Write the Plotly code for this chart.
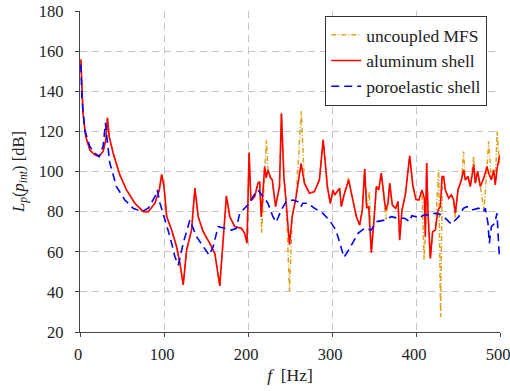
import plotly.graph_objects as go

# ---- data ----
alu_f = [1, 2, 3.6, 6.8, 11.6, 17.5, 22.7, 27.5, 30.7, 32.7, 34.7, 39.4, 47.4, 55.4, 65.3, 75.3, 81.3, 89.2, 94.4, 97.2,
         100, 103.2, 109.1, 115, 119, 122.9, 126.9, 132.8, 136.8, 140.7, 146.6, 154.5, 160.5, 166.4, 170.4, 174.3, 178.3,
         184.2, 192.1, 196, 198.8, 201.3,
         203.5, 207.9, 211.9, 213.8, 215.8, 219.8, 221.7, 223.7, 226.9, 228.9, 232.8, 235.6, 237.5, 239.8, 242.7, 245.5,
         249.4, 252.6, 257.3, 263.2, 267.2, 273.1, 279, 285, 289.5, 294.5, 298,
         301.2, 303.2, 306.3, 309.1, 311.1, 314.3, 319.8, 322.5, 325, 329, 332.9, 336.1, 338.9, 341.3, 343.7, 346.8, 350,
         352.8, 355.6, 358.7, 361.9, 363.9, 366.7, 368.7, 371.8, 375.8, 378.6, 380.6, 383.3, 387.3, 392.5, 396.4,
         400, 403.5, 407.1, 409.9, 411.1, 412.7, 414.3, 417.1, 419.8, 423, 426.2, 429, 431, 432.9, 434.9, 438.9, 442.1,
         444.8, 446.8, 450, 454, 456.7, 458.7, 461.9, 464.7, 468.7, 470.6, 473.4, 476.6, 480.6, 484.5, 486.5, 489.7,
         492.5, 494.4, 496.4, 499.2, 500]
alu_db = [155.8, 144.2, 129.2, 117.5, 110.8, 108.3, 107.5, 110, 115.8, 126.7, 117.5, 109.2, 98.3, 90.8, 84.2, 80, 80, 84.2, 90.8, 98.5,
          92.5, 77.5, 70.8, 62.5, 54.2, 43.5, 60.8, 70.8, 91.7, 77.5, 70, 64.2, 59.2, 43, 67.5, 87.8, 77.5,
          72.5, 71.7, 69.2, 64.2, 109.5,
          85.5, 87.5, 94.2, 95, 77.5, 102.5, 96.7, 100.8, 96.7, 95.8, 82.5, 89.2, 92.5, 129, 97.5, 84.2,
          63.5, 77.5, 87.5, 104, 94.2, 89.2, 90, 95.8, 115.8, 92.5, 84,
          90.8, 88.3, 90, 91.7, 82.5, 88.3, 95.8, 90, 85, 77.5, 73.3, 80.8, 101.2, 81.7, 82.5, 59.5, 75.8,
          92.5, 90.8, 99.2, 87.5, 80.8, 84.2, 94.2, 83.3, 81.7, 85, 65.8, 80.8, 88.3, 107.8, 92.5,
          86, 85.8, 90.8, 86.7, 67.5, 104.2, 79.2, 56.7, 70, 70.8, 80.8, 82.5, 97.5, 97.5, 90.8, 86.7, 88.3,
          85.8, 79.2, 90.8, 95.8, 100.8, 95.8, 97.5, 92.5, 103.3, 94.2, 100, 92.5, 96.7, 102.5, 99.2, 95.8,
          100.8, 93.3, 100.8, 107.5, 108]

mfs_f = [1, 2, 3.6, 6.8, 11.6, 17.5, 22.7, 27.5, 30.7, 32.7, 34.7, 39.4, 47.4, 55.4, 65.3, 75.3, 81.3, 89.2, 94.4, 97.2,
         100, 103.2, 109.1, 115, 119, 122.9, 126.9, 132.8, 136.8, 140.7, 146.6, 154.5, 160.5, 166.4, 170.4, 174.3, 178.3,
         184.2, 192.1, 196, 198.8, 201.3,
         203.5, 207.9, 211.9, 213.8, 216.3, 219.8, 221.9, 223.7, 226.9, 228.9, 232.8, 235.6, 237.5, 239.8, 242.7, 245.5,
         249.4, 252.6, 257.3, 263.4, 267.2, 273.1, 279, 285, 289.5, 294.5, 298,
         301.2, 303.2, 306.3, 309.1, 311.1, 314.3, 319.8, 322.5, 325, 329, 332.9, 336.1, 338.9, 341.3, 344.6, 346.8, 350,
         352.8, 355.6, 358.7, 361.9, 364.2, 366.7, 368.7, 371.8, 375.8, 378.6, 380.6, 383.3, 387.3, 392.5, 396.4,
         400, 403.5, 407.1, 409.6, 411.1, 412.7, 414.3, 417.1, 419.8, 423, 426.9, 429.3, 431.3, 432.9, 434.9, 438.9, 442.1,
         444.8, 446.8, 450, 454, 456.7, 458.7, 461.9, 464.7, 468.7, 470.6, 473.4, 476.6, 481, 484.5, 486.5, 489.7,
         492.5, 494.4, 496.6, 499.2, 500]
mfs_db = [155.8, 144.2, 129.2, 117.5, 110.8, 108.3, 107.5, 110, 115.8, 126.7, 117.5, 109.2, 98.3, 90.8, 84.2, 80, 80, 84.2, 90.8, 98.5,
          92.5, 77.5, 70.8, 62.5, 54.2, 43.5, 60.8, 70.8, 91.7, 77.5, 70, 64.2, 59.2, 43, 67.5, 87.8, 77.5,
          72.5, 71.7, 69.2, 64.2, 109.5,
          85.5, 87.5, 94.2, 95, 69.5, 102.5, 115.8, 100.8, 96.7, 95.8, 82.5, 89.2, 92.5, 129, 97.5, 84.2,
          40.5, 77.5, 87.5, 130, 94.2, 89.2, 90, 95.8, 115.8, 92.5, 84,
          90.8, 88.3, 90, 91.7, 82.5, 88.3, 97, 90, 85, 77.5, 73.3, 80.8, 101.2, 81.7, 90, 59.5, 75.8,
          92.5, 90.8, 99.2, 87.5, 76, 84.2, 94.2, 83.3, 81.7, 85, 68, 80.8, 88.3, 107.8, 92.5,
          86, 85.8, 90.8, 56, 67.5, 104.2, 79.2, 56.7, 70, 70.8, 100.8, 27.5, 97, 97.5, 90.8, 86.7, 88.3,
          85.8, 77, 90.8, 95.8, 110, 95.8, 97.5, 92.5, 107.5, 94.2, 100, 92.5, 80.5, 102.5, 115, 95.8,
          100.8, 93.3, 120, 104, 108]

poro_f = [1, 2.4, 5.6, 11.6, 17.5, 22.7, 27.5, 30.3, 32.3, 35.5, 43.4, 53.4, 63.3, 73.3, 81.3, 89.2, 92, 95.2,
          101.2, 107.1, 113, 117, 122.9, 130.8, 138.7, 146.6, 153.8, 158.5, 164.4, 172.3, 180.2, 186.2, 190.1, 196,
          202, 205.9, 211.9, 217.8, 223.7, 229.6, 233.6, 239.5, 245.5, 253.4, 259.3, 263.2, 265.2, 271.1, 279, 288.9,
          296.8, 304.7, 311.1, 314.3, 321, 331, 338.9, 346.8, 352.8, 362.7, 370.6, 378.6, 386.5, 392.5, 395, 400,
          403.2, 409.1, 415.1, 423, 431, 436.9, 442.1, 446.8, 450.8, 456.7, 460.7, 466.7, 474.6, 480.6, 482.5, 485.7,
          487.3, 489.7, 493.7, 496.4, 497.6, 499.2, 500]
poro_db = [153.3, 135.8, 120.8, 112.5, 109.2, 107.5, 112.5, 124.2, 115.8, 104.2, 92.5, 85.8, 81.7, 80, 81.7, 87.5, 90.8, 84.2,
           75.8, 67.5, 57.5, 53.3, 64.2, 75.8, 67.5, 62.5, 58.3, 62.5, 72.5, 71.7, 70.8, 71.7, 79.2, 81.7,
           84.2, 87.5, 90.8, 87.5, 84.2, 77.5, 74.7, 80.8, 85, 85.8, 85, 82.5, 84.2, 84.2, 81.7, 79.2,
           75.8, 70.8, 62.5, 57.2, 61.7, 69.2, 71.7, 70.8, 75, 75.8, 77.5, 76.7, 76.7, 75, 78, 77.5,
           76.7, 78.3, 78.3, 79.2, 78.3, 75.8, 73.8, 75.8, 77.5, 81.7, 82.5, 80.8, 81.7, 80, 81.7, 74.2,
           64.2, 72.5, 74.2, 79.2, 69.2, 57.5, 57]

x_ticks = [0, 100, 200, 300, 400, 500]
y_ticks = [20, 40, 60, 80, 100, 120, 140, 160, 180]

FONT = "Liberation Serif"

fig = go.Figure()
fig.add_trace(go.Scatter(x=mfs_f, y=mfs_db, mode="lines", name="uncoupled MFS",
                         line=dict(color="#DAA520", width=1.5, dash="5px,2px,1px,2px")))
fig.add_trace(go.Scatter(x=alu_f, y=alu_db, mode="lines", name="aluminum shell",
                         line=dict(color="#FF0000", width=1.6)))
fig.add_trace(go.Scatter(x=poro_f, y=poro_db, mode="lines", name="poroelastic shell",
                         line=dict(color="#0000FF", width=1.6, dash="8px,5px")))

axis_common = dict(showgrid=True, gridcolor="#c4c4c4", gridwidth=1, griddash="7px,5px",
                   showline=True, linecolor="#444444", linewidth=1.2,
                   ticks="outside", ticklen=4, tickcolor="#444444",
                   tickfont=dict(family=FONT, size=16.5, color="#222222"),
                   zeroline=False, automargin=False, ticklabeloverflow="allow")

fig.update_layout(
    width=510, height=391,
    margin=dict(l=80, r=10, t=11, b=59),
    paper_bgcolor="white", plot_bgcolor="white",
    font=dict(family=FONT, color="#222222"),
    xaxis=dict(range=[0, 500], tickvals=x_ticks, ticklabelstandoff=3, ticklabelshift=-2, **axis_common,
               title=dict(text="<i>f</i>  [Hz]", font=dict(family=FONT, size=17.5), standoff=5)),
    yaxis=dict(range=[20, 180], tickvals=y_ticks, ticklabelstandoff=8, **axis_common,
               title=dict(text="<i>L<sub>p</sub></i>(<i>p<sub>int</sub></i>) [dB]",
                          font=dict(family=FONT, size=16.5), standoff=10)),
    legend=dict(x=0.9697, y=0.985, xanchor="right", yanchor="top",
                bgcolor="white", bordercolor="#333333", borderwidth=1,
                font=dict(family=FONT, size=17.5, color="#222222"),
                itemwidth=30, tracegroupgap=0),
    showlegend=True,
)

fig.write_html("out.html", post_script="document.body.style.margin='0';",
               config={"displayModeBar": False})
